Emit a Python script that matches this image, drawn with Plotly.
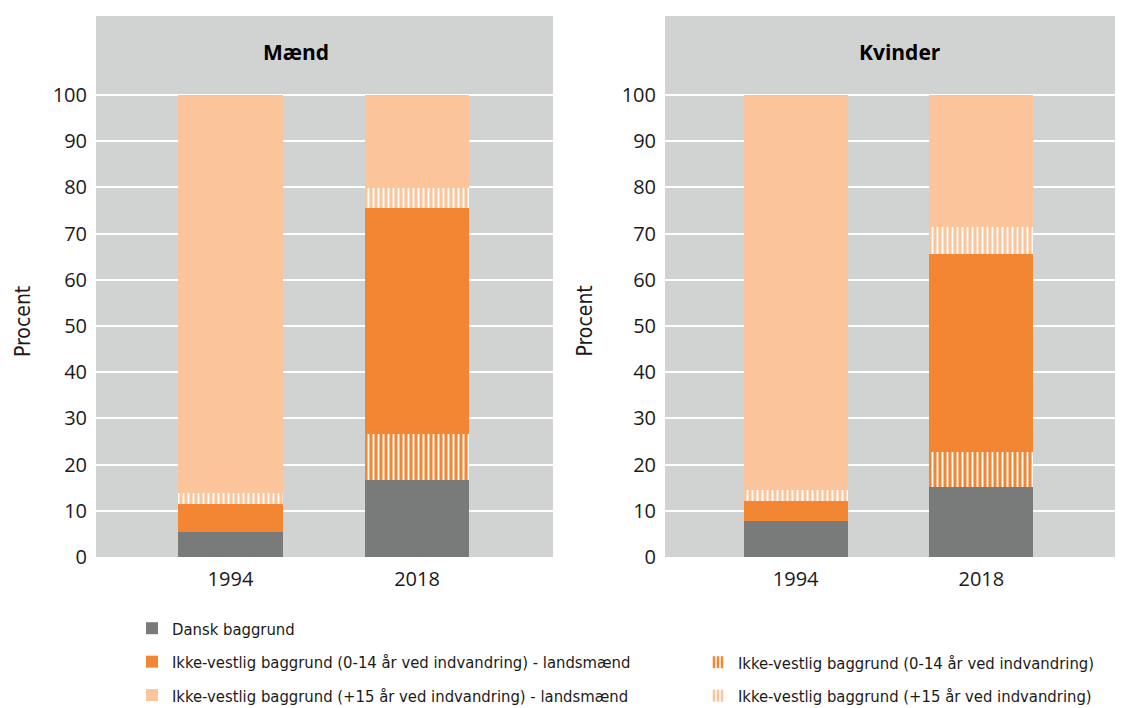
import plotly.graph_objects as go
from plotly.subplots import make_subplots

categories = ["1994", "2018"]

# Mænd
maend_dansk = [5.5, 16.6]
maend_ung_indv = [0.0, 10.0]
maend_ung_lands = [6.0, 48.9]
maend_voksen_indv = [2.4, 4.4]
maend_voksen_lands = [86.1, 20.1]

# Kvinder
kvinder_dansk = [7.8, 15.2]
kvinder_ung_indv = [0.0, 7.5]
kvinder_ung_lands = [4.4, 42.8]
kvinder_voksen_indv = [2.2, 5.9]
kvinder_voksen_lands = [85.6, 28.6]

panel_titles = ["Mænd", "Kvinder"]
y_ticks = [0, 10, 20, 30, 40, 50, 60, 70, 80, 90, 100]

names = {
    "dansk": "Dansk baggrund",
    "ung_lands": "Ikke-vestlig baggrund (0-14 år ved indvandring) - landsmænd",
    "voksen_lands": "Ikke-vestlig baggrund (+15 år ved indvandring) - landsmænd",
    "ung_indv": "Ikke-vestlig baggrund (0-14 år ved indvandring)",
    "voksen_indv": "Ikke-vestlig baggrund (+15 år ved indvandring)",
}

GRAY = "#797B7B"
ORANGE = "#F28633"
PEACH = "#FBC49A"
PANEL = "#D1D3D2"

styles = {
    "dansk": dict(color=GRAY, pattern=None, legend="legend", rank=1),
    "ung_indv": dict(color=ORANGE, pattern="|", legend="legend2", rank=1),
    "ung_lands": dict(color=ORANGE, pattern=None, legend="legend", rank=2),
    "voksen_indv": dict(color=PEACH, pattern="|", legend="legend2", rank=2),
    "voksen_lands": dict(color=PEACH, pattern=None, legend="legend", rank=3),
}

panels = [
    {"dansk": maend_dansk, "ung_indv": maend_ung_indv, "ung_lands": maend_ung_lands,
     "voksen_indv": maend_voksen_indv, "voksen_lands": maend_voksen_lands},
    {"dansk": kvinder_dansk, "ung_indv": kvinder_ung_indv, "ung_lands": kvinder_ung_lands,
     "voksen_indv": kvinder_voksen_indv, "voksen_lands": kvinder_voksen_lands},
]
order = ["dansk", "ung_indv", "ung_lands", "voksen_indv", "voksen_lands"]

fig = make_subplots(rows=1, cols=2)

for ci, panel in enumerate(panels):
    for key in order:
        st = styles[key]
        marker = dict(color=st["color"], line=dict(width=0))
        if st["pattern"]:
            marker["pattern"] = dict(shape="|", fgcolor="white", bgcolor=st["color"],
                                     size=5, solidity=0.38, fillmode="replace")
        fig.add_trace(
            go.Bar(
                x=categories, y=panel[key], name=names[key], marker=marker,
                width=0.56, legendgroup=key, showlegend=(ci == 0),
                legend=st["legend"], legendrank=st["rank"],
                hovertemplate="%{x}: %{y}<extra>" + names[key] + "</extra>",
            ),
            row=1, col=ci + 1,
        )

W, H = 1123, 708
T, B = 16, 151
LEG_FONT = dict(family="Liberation Sans Narrow, DejaVu Sans Condensed, sans-serif",
                size=16.5, color="#1a1a1a")
fig.update_layout(
    width=W, height=H, barmode="stack", bargap=0.44,
    margin=dict(l=0, r=0, t=T, b=B, autoexpand=False),
    plot_bgcolor=PANEL, paper_bgcolor="white",
    font=dict(family="Open Sans, Noto Sans, sans-serif", color="#1a1a1a"),
    legend=dict(
        xref="container", yref="container",
        x=132 / W, y=1 - 611 / H, xanchor="left", yanchor="top",
        orientation="v", traceorder="grouped", tracegroupgap=9,
        font=LEG_FONT, bgcolor="rgba(0,0,0,0)",
    ),
    legend2=dict(
        xref="container", yref="container",
        x=698 / W, y=1 - 645 / H, xanchor="left", yanchor="top",
        orientation="v", traceorder="grouped", tracegroupgap=9,
        font=LEG_FONT, bgcolor="rgba(0,0,0,0)",
    ),
)

x_domains = [[96 / W, 553 / W], [665 / W, 1115 / W]]
x_ranges = [[-0.721, 1.729], [-0.704, 1.72]]
for i in range(2):
    fig.update_xaxes(type="category", domain=x_domains[i], range=x_ranges[i],
                     showgrid=False, showline=False, ticks="", zeroline=False,
                     automargin=False,
                     tickfont=dict(size=20, color="#1a1a1a"), ticklabelstandoff=8,
                     row=1, col=i + 1)
    fig.update_yaxes(range=[0, (557 - 16) / 4.62], tickvals=y_ticks,
                     showgrid=True, gridcolor="white", gridwidth=1.5,
                     zeroline=False, showline=False, ticks="", automargin=False,
                     tickfont=dict(size=20, color="#1a1a1a"), ticklabelstandoff=8,
                     row=1, col=i + 1)

title_x = [296 / W, 900 / W]
title_px = [23, 584.5]
for i in range(2):
    fig.add_annotation(text="<b>" + panel_titles[i] + "</b>", x=title_x[i],
                       y=(557 - 52) / (H - T - B), xref="paper", yref="paper",
                       xanchor="center", yanchor="middle",
                       showarrow=False, font=dict(size=21, color="black"))
    fig.add_annotation(text="Procent", textangle=-90, x=title_px[i] / W,
                       y=(557 - 321) / (H - T - B), xref="paper", yref="paper",
                       xanchor="center", yanchor="middle",
                       showarrow=False,
                       font=dict(family="Liberation Sans Narrow, DejaVu Sans Condensed, sans-serif",
                                 size=21, color="#1a1a1a"))

fig.write_html(
    "out.html",
    config={"displayModeBar": False},
    post_script="document.body.style.margin='0';document.body.style.overflow='hidden';",
)
